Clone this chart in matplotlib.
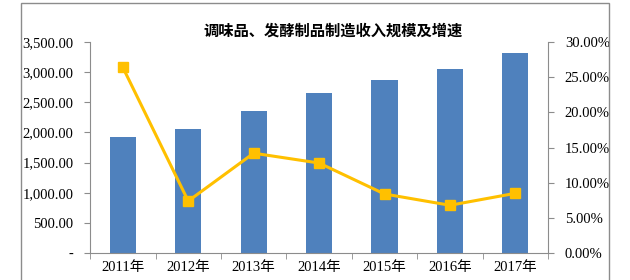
import matplotlib
matplotlib.use("Agg")
import matplotlib.pyplot as plt
from matplotlib.patches import Rectangle
from matplotlib.ticker import FuncFormatter

plt.rcParams['font.family'] = ['Liberation Serif', 'Noto Sans CJK SC', 'DejaVu Sans']

years = ['2011年', '2012年', '2013年', '2014年', '2015年', '2016年', '2017年']
revenue = [1924, 2057, 2355, 2654, 2870, 3052, 3318]
growth = [26.4, 7.4, 14.2, 12.8, 8.4, 6.8, 8.5]
title = '调味品、发酵制品制造收入规模及增速'

fig = plt.figure(figsize=(6.3, 2.8), dpi=100)
ax = fig.add_axes([0.143, 0.096, 0.727, 0.754])
ax2 = ax.twinx()

# outer chart frame
fig.patches.append(Rectangle((0.033, -0.02), 0.934, 1.008, transform=fig.transFigure,
                             fill=False, edgecolor='#8c8c8c', linewidth=1.0))

x = list(range(len(years)))
ax.bar(x, revenue, width=0.4, color='#4F81BD', zorder=2)
ax2.plot(x, growth, color='#FFC000', linewidth=2.2, marker='s', markersize=7.5,
         markerfacecolor='#FFC000', markeredgecolor='#FFC000', zorder=3)

ax.set_xlim(-0.5, len(years) - 0.5)
ax.set_ylim(0, 3500)
ax.set_yticks(range(0, 3501, 500))
ax.yaxis.set_major_formatter(FuncFormatter(lambda v, p: '-' if v == 0 else f'{v:,.2f}'))
ax2.set_ylim(0, 30)
ax2.set_yticks(range(0, 31, 5))
ax2.yaxis.set_major_formatter(FuncFormatter(lambda v, p: f'{v:.2f}%'))

ax.set_xticks(x)
ax.set_xticklabels(years)
ax.set_xticks([i + 0.5 for i in x[:-1]] + [-0.5, len(years) - 0.5], minor=True)
ax.tick_params(axis='x', which='major', length=0, pad=6, labelsize=10.5)
ax.tick_params(axis='x', which='minor', length=4, color='#8c8c8c')
ax.tick_params(axis='y', length=4, color='#8c8c8c', labelsize=10.5, pad=8)
ax2.tick_params(axis='y', length=4, color='#8c8c8c', labelsize=10.5, pad=8)

for a in (ax, ax2):
    a.spines['top'].set_visible(False)
    for s in ('left', 'right', 'bottom'):
        a.spines[s].set_color('#8c8c8c')
ax2.spines['left'].set_visible(False)
ax2.spines['bottom'].set_visible(False)
ax.spines['right'].set_visible(False)

fig.text(0.529, 0.89, title, ha='center', va='center', fontsize=11, fontweight='bold',
         family=['Noto Sans CJK SC', 'DejaVu Sans'])

fig.savefig('out.png', dpi=100)
